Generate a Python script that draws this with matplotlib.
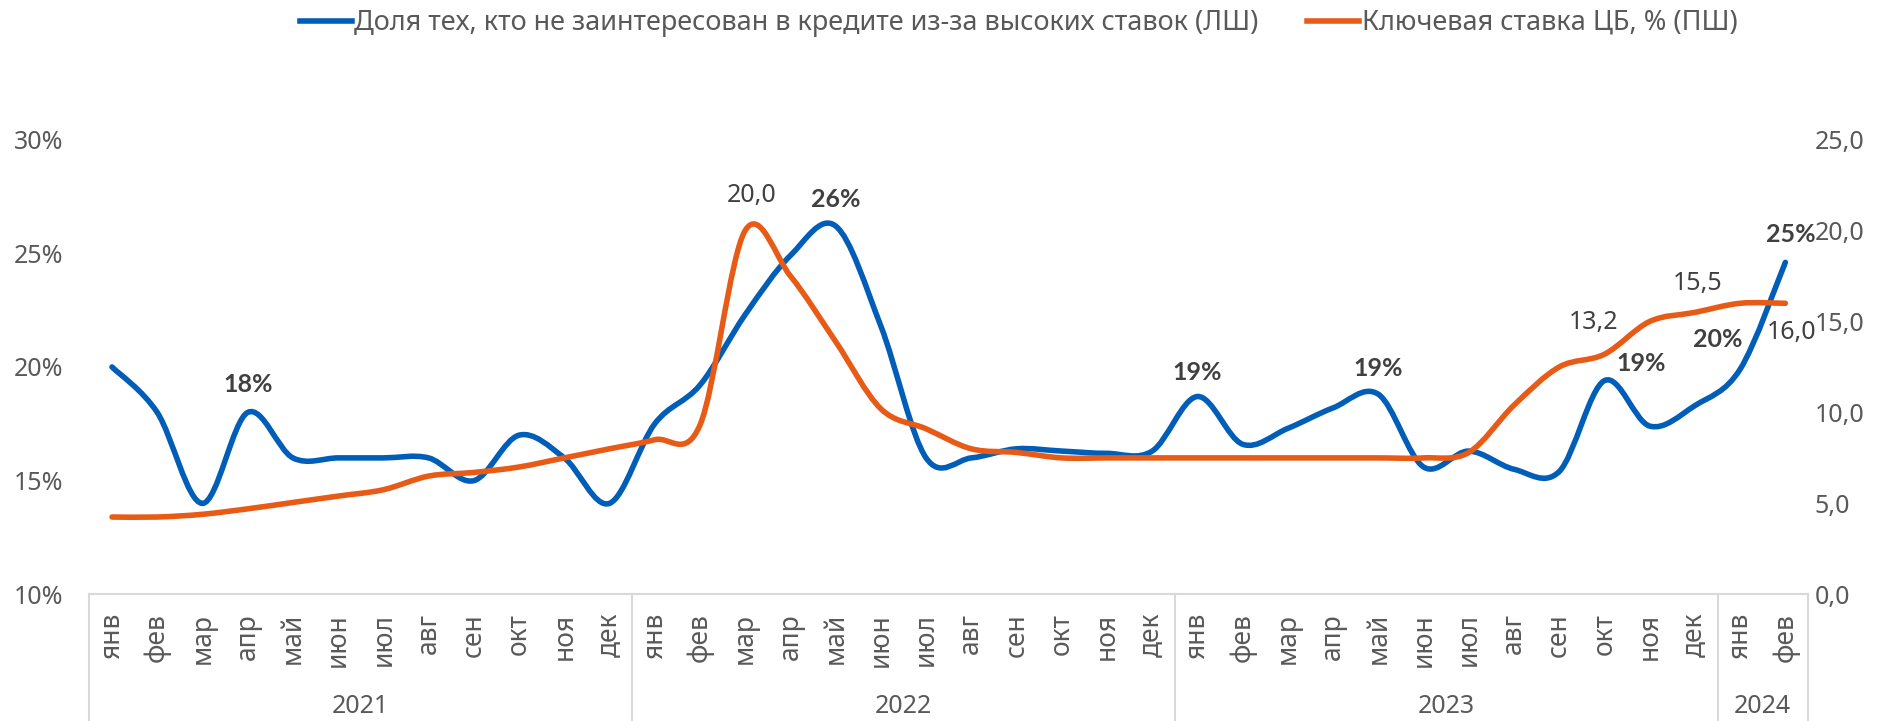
import matplotlib
matplotlib.use('Agg')

import matplotlib.pyplot as plt
import numpy as np
from matplotlib.path import Path
from matplotlib.patches import PathPatch
from matplotlib.lines import Line2D
import matplotlib.transforms as mtransforms

plt.rcParams['font.family'] = ['Noto Sans', 'DejaVu Sans']

months = ["янв", "фев", "мар", "апр", "май", "июн", "июл", "авг", "сен", "окт", "ноя", "дек"] * 3 + ["янв", "фев"]
years = ["2021", "2022", "2023", "2024"]
year_len = [12, 12, 12, 2]

# доля не заинтересованных в кредите из-за ставок, %
share = [20.0, 18.0, 14.0, 18.0, 16.0, 16.0, 16.0, 16.0, 15.0, 17.0, 16.0, 14.0,
         17.5, 19.2, 22.3, 24.9, 26.2, 21.8, 16.0, 16.0, 16.4, 16.3, 16.2, 16.3,
         18.7, 16.6, 17.3, 18.2, 18.8, 15.6, 16.3, 15.5, 15.4, 19.4, 17.4, 18.3,
         19.9, 24.6]
# ключевая ставка ЦБ, %
rate = [4.25, 4.25, 4.4, 4.7, 5.05, 5.4, 5.75, 6.5, 6.7, 7.0, 7.5, 8.0,
        8.5, 9.3, 20.0, 17.5, 13.9, 10.2, 9.1, 8.0, 7.8, 7.5, 7.5, 7.5,
        7.5, 7.5, 7.5, 7.5, 7.5, 7.5, 7.8, 10.4, 12.5, 13.2, 15.0, 15.5,
        16.0, 16.0]

blue = '#005EB8'
orange = '#E85B16'
grey = '#595959'
dark = '#404040'
line_grey = '#D9D9D9'


def smooth(x, y):
    # сглаженная линия как в Excel (кривые Безье через точки)
    n = len(x)
    verts = [(x[0], y[0])]
    codes = [Path.MOVETO]
    for i in range(n - 1):
        a = max(i - 1, 0)
        b = min(i + 2, n - 1)
        c1 = (x[i] + (x[i + 1] - x[a]) / 6, y[i] + (y[i + 1] - y[a]) / 6)
        c2 = (x[i + 1] - (x[b] - x[i]) / 6, y[i + 1] - (y[b] - y[i]) / 6)
        verts += [c1, c2, (x[i + 1], y[i + 1])]
        codes += [Path.CURVE4] * 3
    return Path(verts, codes)


fig = plt.figure(figsize=(18.9, 7.21), dpi=100)
ax = fig.add_axes([0.0473, 0.1757, 0.9093, 0.6307])
ax2 = ax.twinx()

x = np.arange(len(months))
ax.add_patch(PathPatch(smooth(x, share), facecolor='none', edgecolor=blue,
                       lw=4, capstyle='round', joinstyle='round'))
ax2.add_patch(PathPatch(smooth(x, rate), facecolor='none', edgecolor=orange,
                        lw=4, capstyle='round', joinstyle='round'))

ax.set_xlim(-0.5, len(months) - 0.5)
ax.set_ylim(10, 30)
ax2.set_ylim(0, 25)

ax.set_yticks(range(10, 31, 5))
ax.set_yticklabels([f"{v}%" for v in range(10, 31, 5)])
ax2.set_yticks(range(0, 26, 5))
ax2.set_yticklabels([f"{v},0" for v in range(0, 26, 5)])
ax.tick_params(axis='y', length=0, pad=19, labelsize=18, labelcolor=grey)
ax2.tick_params(axis='y', length=0, pad=5, labelsize=18, labelcolor=grey)
ax.set_xticks([])

for a in (ax, ax2):
    for s in ['top', 'left', 'right', 'bottom']:
        a.spines[s].set_visible(False)
ax.spines['bottom'].set_visible(True)
ax.spines['bottom'].set_color(line_grey)
ax.spines['bottom'].set_linewidth(1.5)

trans = mtransforms.blended_transform_factory(ax.transData, ax.transAxes)
for i, m in enumerate(months):
    ax.text(i, -0.041, m, transform=trans, rotation=90, ha='center', va='top',
            fontsize=19, color=grey)

start = 0
edges = [-0.5]
for yr, ln in zip(years, year_len):
    ax.text(start + (ln - 1) / 2, -0.2457, yr, transform=trans, ha='center', va='center',
            fontsize=18, color=grey)
    start += ln
    edges.append(start - 0.5)
for e in edges:
    ax.plot([e, e], [0, -0.28], transform=trans, color=line_grey, lw=1.5, clip_on=False)

# подписи данных (смещения в пикселях)
share_labels = [(3, 0, 28), (16, 0, 26), (24, 0, 24), (28, 0, 26), (33, 37, 17), (36, -22, 30), (37, 5, 28)]
for i, dx, dy in share_labels:
    ax.annotate(f"{share[i]:.0f}%", (i, share[i]), xytext=(dx * 0.72, dy * 0.72),
                textcoords='offset points', ha='center', va='center',
                fontsize=18, fontweight='bold', color=dark, family=['Lato', 'DejaVu Sans'])

rate_labels = [(14, 6, 35), (33, -11, 32), (35, 3, 29), (37, 6, -29)]
for i, dx, dy in rate_labels:
    ax2.annotate(f"{rate[i]:.1f}".replace('.', ','), (i, rate[i]), xytext=(dx * 0.72, dy * 0.72),
                 textcoords='offset points', ha='center', va='center',
                 fontsize=18, color=dark)

handles = [Line2D([], [], color=blue, lw=4),
           Line2D([], [], color=orange, lw=4)]
fig.legend(handles, ["Доля тех, кто не заинтересован в кредите из-за высоких ставок (ЛШ)",
                     "Ключевая ставка ЦБ, % (ПШ)"],
           loc='center', bbox_to_anchor=(0.539, 1 - 23 / 721), ncol=2, frameon=False,
           fontsize=19.5, handlelength=1.9, handletextpad=0.1, columnspacing=1.8,
           labelcolor=grey)

fig.savefig("out.png", dpi=100)
